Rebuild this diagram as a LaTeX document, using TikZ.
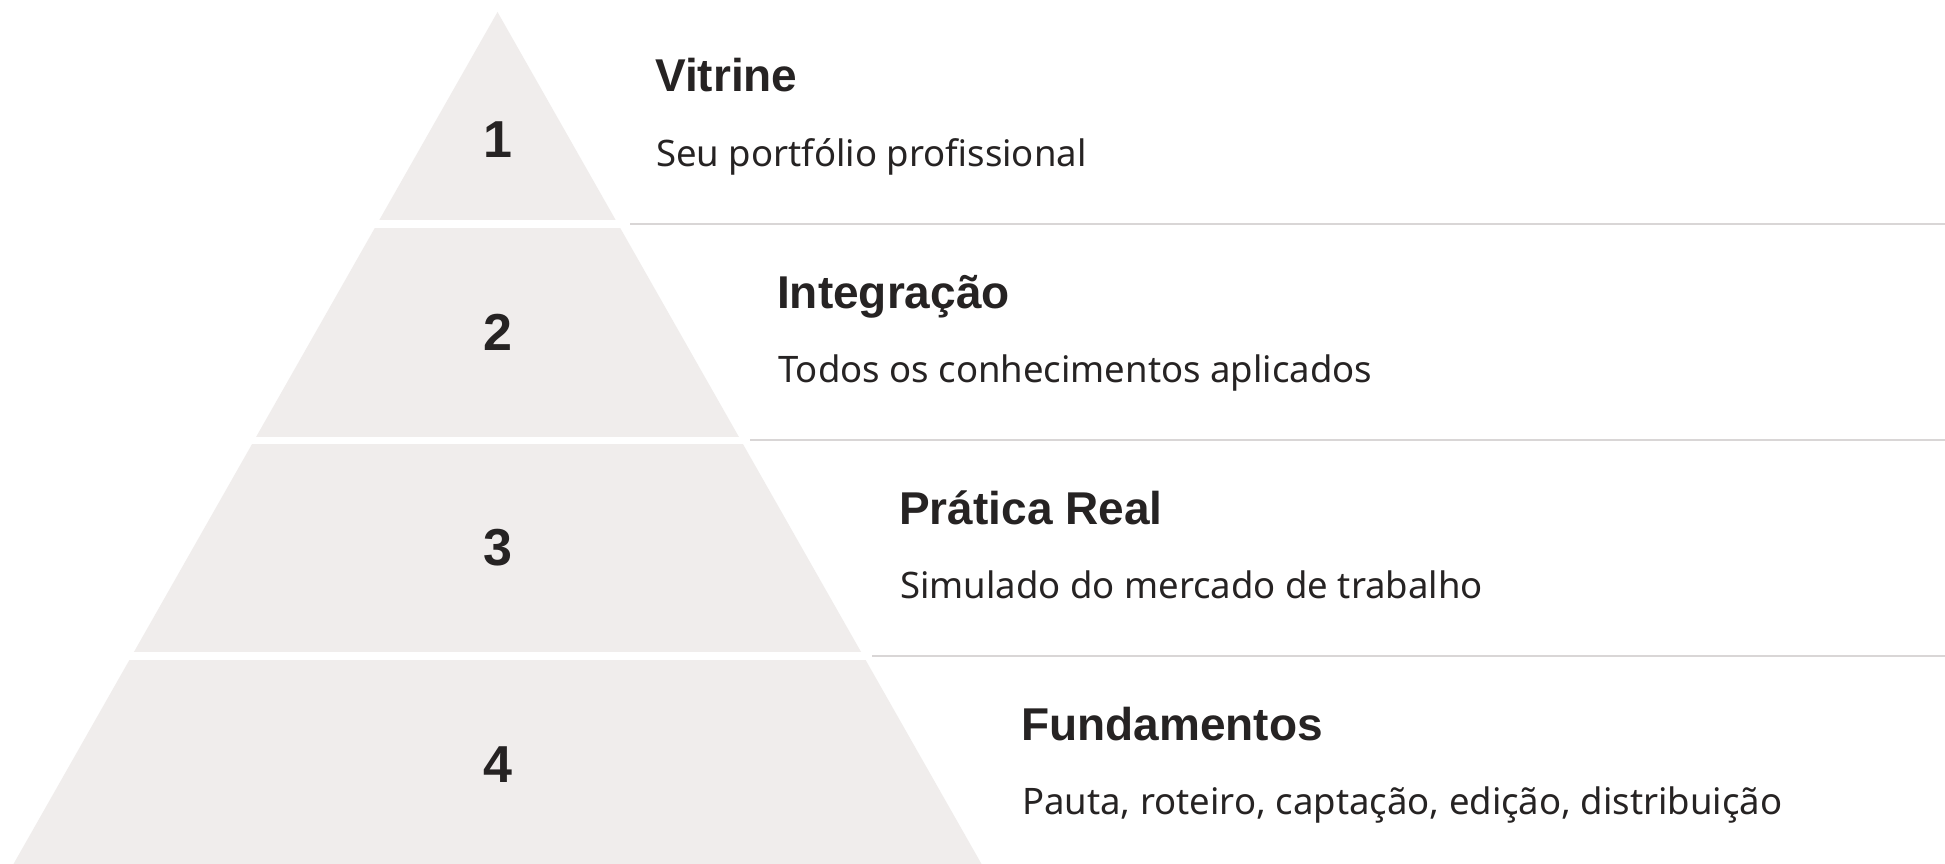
\documentclass[tikz,border=0pt]{standalone}
\usepackage{fontspec}
\setmainfont{Noto Sans}
\newfontfamily\headfont{Liberation Sans}
\definecolor{tierfill}{HTML}{F0EDEC}
\definecolor{ink}{HTML}{262323}
\definecolor{rule}{HTML}{D9D6D6}
\tikzset{
  titletext/.style={anchor=base west,inner sep=0pt,text=ink,font=\headfont\bfseries\fontsize{46}{50}\selectfont},
  subtext/.style={anchor=base west,inner sep=0pt,text=ink,font=\fontsize{36.5}{42}\selectfont},
  numtext/.style={anchor=center,inner sep=0pt,text=ink,font=\headfont\bfseries\fontsize{52}{56}\selectfont},
  rulerline/.style={draw=rule,line width=2pt},
}
\begin{document}
\begin{tikzpicture}[x=1pt,y=-1pt]
\useasboundingbox[fill=white] (0,0) rectangle (1945,864);
% pyramid
\fill[tierfill] (497.5,12) -- (981.5,864) -- (13.5,864) -- cycle;
\fill[white] (0,219.5) rectangle (1000,228);
\fill[white] (0,436.5) rectangle (1000,444);
\fill[white] (0,652) rectangle (1000,660);
% separator lines
\coordinate (l1a) at (630,224);  \coordinate (l1b) at (1945,224);
\coordinate (l2a) at (750,440);  \coordinate (l2b) at (1945,440);
\coordinate (l3a) at (872,656);  \coordinate (l3b) at (1945,656);
\draw[rulerline] (l1a) -- (l1b);
\draw[rulerline] (l2a) -- (l2b);
\draw[rulerline] (l3a) -- (l3b);
% numbers
\node[numtext] (n1) at (497.5,140) {1};
\node[numtext] (n2) at (497.5,332) {2};
\node[numtext] (n3) at (497.5,548) {3};
\node[numtext] (n4) at (497.5,765) {4};
% titles
\node[titletext] (t1) at (655,92) {Vitrine};
\node[titletext] (t2) at (777,308) {Integração};
\node[titletext] (t3) at (899,524) {Prática Real};
\node[titletext] (t4) at (1021,740) {Fundamentos};
% subtitles
\node[subtext] (s1) at (656,166) {Seu portfólio profissional};
\node[subtext] (s2) at (778,382) {Todos os conhecimentos aplicados};
\node[subtext] (s3) at (900,598) {Simulado do mercado de trabalho};
\node[subtext] (s4) at (1022,814) {Pauta, roteiro, captação, edição, distribuição};
\end{tikzpicture}
\end{document}
